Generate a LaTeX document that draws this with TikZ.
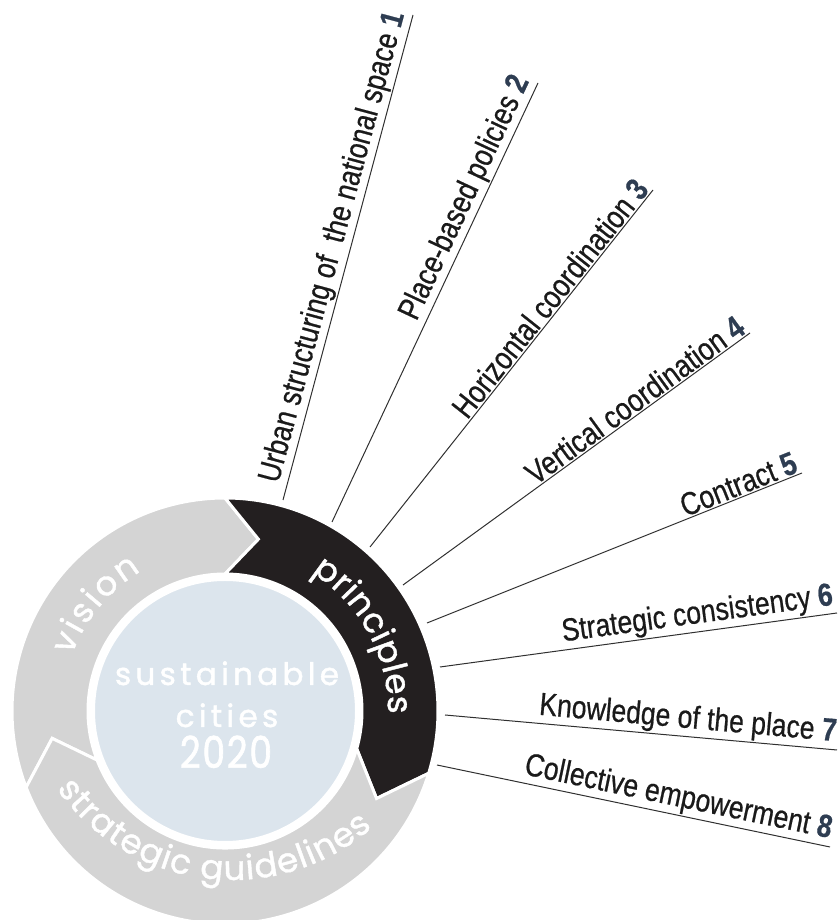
\documentclass[tikz,border=0pt]{standalone}
\usepackage{fontspec}
\setmainfont{Liberation Sans}
\newfontfamily\labfont[FakeStretch=0.83,FakeBold=0.6]{Liberation Sans}
\newfontfamily\ringfont[FakeBold=1.2]{Poppins}
\newfontfamily\ctrfont[LetterSpace=14,FakeBold=1.5]{Poppins}
\newfontfamily\digfont[LetterSpace=4,FakeStretch=0.82,FakeBold=1.5]{Poppins}
\usetikzlibrary{decorations.text,calc}
\definecolor{ringgray}{HTML}{D4D4D4}
\definecolor{darkseg}{HTML}{231F20}
\definecolor{innerblue}{HTML}{DCE5ED}
\definecolor{numblue}{HTML}{2E3D52}
\definecolor{linegray}{HTML}{303030}
\definecolor{labblack}{HTML}{1A1A1A}
\newcommand\nb[1]{\textcolor{numblue}{\bfseries #1}}
\begin{document}
\begin{tikzpicture}[x=1pt,y=1pt,
  seg/.style={draw=white, line width=3pt, line join=miter},
  conn/.style={draw=linegray, line width=1pt},
  lab/.style={font=\labfont\fontsize{32}{36}\selectfont, text=labblack, inner sep=1.5pt, anchor=south east, sloped, pos=1},
  ctr/.style={font=\ctrfont\fontsize{31}{34}\selectfont, text=white, anchor=base, inner sep=0pt},
  ringtext/.style={decorate, decoration={text along path, text align=fit to path, text={|\ringfont\fontsize{34}{36}\selectfont\color{white}|#1}}}
]
\useasboundingbox (0,0) rectangle (839,920);
\clip (0,0) rectangle (839,920);
\coordinate (C) at (225,209);
\begin{scope}[shift={(C)}]
  % vision
  \path[seg, fill=ringgray] (201:213) arc[start angle=201, end angle=90, radius=213]
     -- (79:175) -- (90:137) arc[start angle=90, end angle=201, radius=137] -- (189:175) -- cycle;
  % principles
  \path[seg, fill=darkseg] (90:213) arc[start angle=90, end angle=-17, radius=213]
     -- (-30:175) -- (-16:137) arc[start angle=-16, end angle=90, radius=137] -- (79:175) -- cycle;
  % strategic guidelines
  \path[seg, fill=ringgray] (-17:213) arc[start angle=-17, end angle=-159, radius=213]
     -- (-171:175) -- (-159:137) arc[start angle=-159, end angle=-16, radius=137] -- (-30:175) -- cycle;
  % inner disc
  \path[fill=innerblue, draw=white, line width=3pt] (0,0) circle[radius=131.5];
  % ring texts
  \path[ringtext=principles] (58:163) arc[start angle=58, end angle=-1, radius=163];
  \path[ringtext=vision] (160:163) arc[start angle=160, end angle=121, radius=163];
\end{scope}
\begin{scope}[shift={(232,254)}]
  \path[ringtext={strategic guidelines}] (215:214) arc[start angle=215, end angle=311, radius=214];
\end{scope}
% centre text
\node[ctr] (t1) at (227,235) {sustainable};
\node[ctr] (t2) at (227,193) {cities};
\node[ctr, font=\digfont\fontsize{44}{46}\selectfont] (t3) at (226,152) {2020};
% principle lines
\coordinate (n1) at (283,420); \coordinate (f1) at (413,905);
\coordinate (n2) at (332,398); \coordinate (f2) at (538,837);
\coordinate (n3) at (370,373); \coordinate (f3) at (653,730);
\coordinate (n4) at (403,335); \coordinate (f4) at (750,587);
\coordinate (n5) at (427,297); \coordinate (f5) at (802,447);
\coordinate (n6) at (440,253); \coordinate (f6) at (837,307);
\coordinate (n7) at (445,205); \coordinate (f7) at (837,170);
\coordinate (n8) at (437,155); \coordinate (f8) at (830,73);
\draw[conn] (n1) -- (f1) node[lab] (l1) {Urban structuring of\ \ the national space \nb{1}};
\draw[conn] (n2) -- (f2) node[lab] (l2) {Place-based policies \nb{2}};
\draw[conn] (n3) -- (f3) node[lab] (l3) {Horizontal coordination \nb{3}};
\draw[conn] (n4) -- (f4) node[lab] (l4) {Vertical coordination \nb{4}};
\draw[conn] (n5) -- (f5) node[lab] (l5) {Contract \nb{5}};
\draw[conn] (n6) -- (f6) node[lab] (l6) {Strategic consistency \nb{6}};
\draw[conn] (n7) -- (f7) node[lab] (l7) {Knowledge of the place \nb{7}};
\draw[conn] (n8) -- (f8) node[lab] (l8) {Collective empowerment \nb{8}};
\end{tikzpicture}
\end{document}
